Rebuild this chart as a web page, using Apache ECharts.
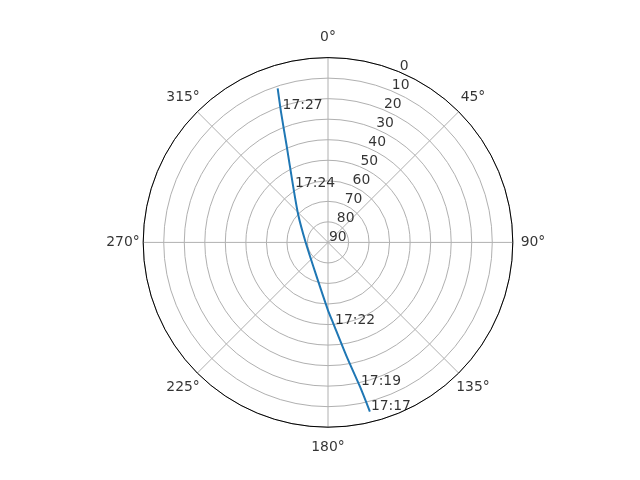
<!DOCTYPE html>
<html>
<head>
<meta charset="utf-8">
<script src="https://cdn.jsdelivr.net/npm/echarts@6/dist/echarts.min.js"></script>
<style>
html,body{margin:0;padding:0;background:#fff;}
#chart{width:640px;height:480px;}
</style>
</head>
<body>
<div id="chart"></div>
<script>
// Track (elevation in degrees, azimuth in degrees), in time order
var trackElevation = [5.1, 18.0, 33.6, 50.5, 57.4, 74.4, 79.1, 70.3, 56.5, 39.3, 22.4, 11.1];
var trackAzimuth   = [166.1, 167.5, 170.7, 176.3, 180.3, 203.9, 270.3, 312.7, 329.1, 336.7, 340.2, 341.9];

// Time annotations along the track
var timeLabels    = ['17:17', '17:19', '17:22', '17:24', '17:27'];
var timeElevation = [5.1, 18.0, 49.7, 58.8, 21.9];
var timeAzimuth   = [166.1, 167.5, 175.8, 328.0, 340.6];

// Radial (elevation) tick labels and their angle
var radialTicks = [0, 10, 20, 30, 40, 50, 60, 70, 80, 90];
var radialLabelAngle = 22.5;

// Angular tick labels (azimuth)
var angleTicks = [0, 45, 90, 135, 180, 225, 270, 315];

var chart = echarts.init(document.getElementById('chart'), null, {renderer: 'canvas'});

var trackData = trackElevation.map(function (r, i) { return [r, trackAzimuth[i]]; });
var timeData = timeLabels.map(function (t, i) { return {value: [timeElevation[i], timeAzimuth[i]], name: t}; });
var radialData = radialTicks.map(function (r) { return {value: [r, radialLabelAngle], name: String(r)}; });
var angleData = angleTicks.map(function (a) { return {value: [1, a], name: a + '°'}; });

var font = 'DejaVu Sans';
var fs = 13.9;

function labelSeries(data, polarIndex, align, vAlign, offset, z) {
  return {
    type: 'scatter',
    coordinateSystem: 'polar',
    polarIndex: polarIndex,
    data: data,
    symbolSize: 1,
    itemStyle: {color: 'rgba(0,0,0,0)'},
    silent: true,
    label: {
      show: true,
      position: [0.5, 0.5],
      align: align,
      verticalAlign: vAlign,
      offset: offset,
      color: '#000000',
      fontFamily: font,
      fontSize: fs,
      formatter: function (p) { return p.name; }
    },
    z: z
  };
}

chart.setOption({
  animation: false,
  backgroundColor: '#ffffff',
  polar: [
    {center: [328, 242.4], radius: 184.8},
    {center: [328, 242.4], radius: 205}
  ],
  angleAxis: [
    {
      polarIndex: 0,
      type: 'value',
      min: 0,
      max: 360,
      interval: 45,
      startAngle: 90,
      clockwise: true,
      axisLine: {show: true, lineStyle: {color: '#000000', width: 1}},
      axisTick: {show: false},
      axisLabel: {show: false},
      splitLine: {show: true, lineStyle: {color: '#b0b0b0', width: 1}}
    },
    {
      polarIndex: 1,
      type: 'value',
      min: 0,
      max: 360,
      interval: 45,
      startAngle: 90,
      clockwise: true,
      axisLine: {show: false},
      axisTick: {show: false},
      axisLabel: {show: false},
      splitLine: {show: false}
    }
  ],
  radiusAxis: [
    {
      polarIndex: 0,
      type: 'value',
      min: 0,
      max: 90,
      interval: 10,
      inverse: true,
      axisLine: {show: false},
      axisTick: {show: false},
      axisLabel: {show: false},
      splitLine: {show: true, lineStyle: {color: '#b0b0b0', width: 1}}
    },
    {
      polarIndex: 1,
      type: 'value',
      min: 0,
      max: 1,
      axisLine: {show: false},
      axisTick: {show: false},
      axisLabel: {show: false},
      splitLine: {show: false},
      splitArea: {show: false}
    }
  ],
  series: [
    {
      type: 'line',
      coordinateSystem: 'polar',
      polarIndex: 0,
      data: trackData,
      showSymbol: false,
      symbol: 'none',
      smooth: 0.25,
      lineStyle: {color: '#1f77b4', width: 2},
      silent: true,
      z: 3
    },
    labelSeries(radialData, 0, 'left', 'bottom', [1, 2], 4),
    labelSeries(timeData, 0, 'left', 'bottom', [1, 2], 5),
    labelSeries(angleData, 1, 'center', 'middle', [0, 0], 6)
  ]
});
</script>
</body>
</html>
